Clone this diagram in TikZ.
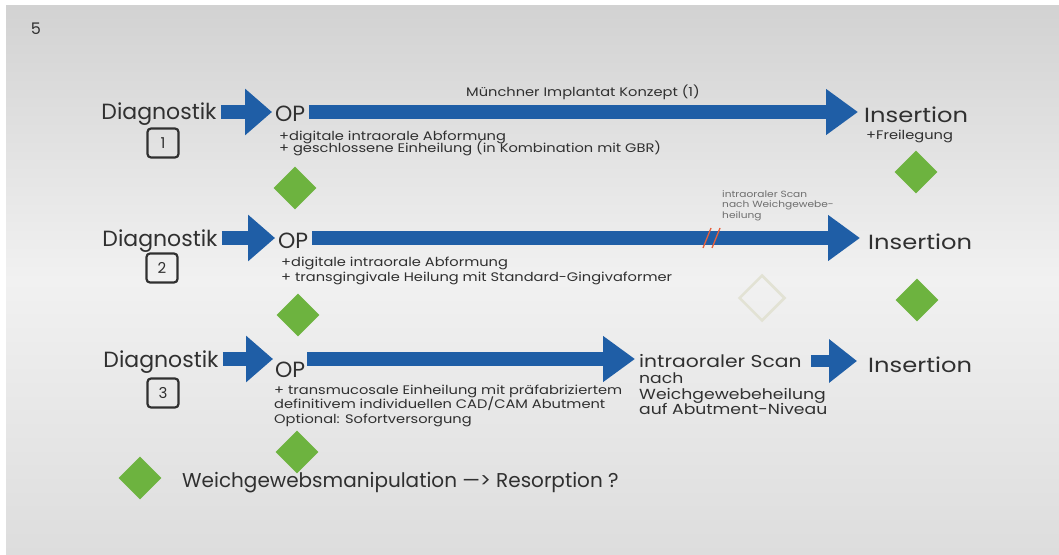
\documentclass[tikz,border=0pt]{standalone}
\usepackage{fontspec}
\setmainfont{Poppins}
\newfontfamily\widefont{Poppins}[FakeStretch=1.18]
\usetikzlibrary{arrows.meta,shapes.geometric}
\definecolor{arrowblue}{HTML}{1F5EA6}
\definecolor{leafgreen}{HTML}{6DB33F}
\definecolor{txt}{HTML}{303030}
\definecolor{slashred}{HTML}{E8603C}
\definecolor{faint}{HTML}{E2E2D4}
\definecolor{bgtop}{HTML}{D2D2D2}
\definecolor{bgmid}{HTML}{F1F1F1}
\definecolor{bgbot}{HTML}{DDDDDD}
\begin{document}
\begin{tikzpicture}[x=1pt,y=-1pt,
  big/.style={inner sep=0pt,text=txt,font=\fontsize{22}{24}\selectfont,anchor=base},
  mid/.style={inner sep=0pt,text=txt,font=\widefont\fontsize{17.2}{19}\selectfont,anchor=base west},
  sub/.style={inner sep=0pt,text=txt,font=\widefont\fontsize{14.6}{16}\selectfont,anchor=base west},
  small/.style={inner sep=0pt,text=txt,font=\widefont\fontsize{12.4}{13}\selectfont,anchor=base west},
  tiny/.style={inner sep=0pt,text=txt!70,font=\widefont\fontsize{9}{10}\selectfont,anchor=base west},
  numbox/.style={draw=txt,line width=2.2pt,rounded corners=3.5pt,minimum width=31pt,minimum height=29pt,inner sep=0pt,text=txt,font=\fontsize{15}{16}\selectfont},
  dia/.style={diamond,fill=leafgreen,minimum size=43pt,inner sep=0pt},
  shortarrow/.style={arrowblue,line width=14pt,-{Triangle[length=27pt,width=45pt]}},
  longarrow/.style={arrowblue,line width=14pt,-{Triangle[length=32pt,width=44pt]}},
  midarrow/.style={arrowblue,line width=12pt,-{Triangle[length=28pt,width=42pt]}}
]
\useasboundingbox (0,0) rectangle (1059,554);
\fill[white] (0,0) rectangle (1059,554);
\shade[top color=bgtop,bottom color=bgbot,middle color=bgmid] (6,5) rectangle (1059,554);

\node[inner sep=0pt,text=txt,font=\fontsize{16}{17}\selectfont,anchor=base] (pg) at (36,34) {5};

% row coordinates
\coordinate (r1) at (0,112);
\coordinate (r2) at (0,238);
\coordinate (r3) at (0,359);
\coordinate (r3b) at (0,361);

% Row 1
\node[big] (diag1) at (159,119) {Diagnostik};
\node[numbox] (n1) at (163,143) {1};
\node[big,anchor=base west] (op1) at (275,121) {OP};
\node[big,anchor=base west,font=\widefont\fontsize{20.5}{22}\selectfont] (ins1) at (864,122) {Insertion};
\node[small] (t1a) at (279,140) {+digitale intraorale Abformung};
\node[small] (t1b) at (279,152) {+ geschlossene Einheilung (in Kombination mit GBR)};
\node[small,anchor=base] (mik) at (583,96) {Münchner Implantat Konzept (1)};
\node[small] (frei) at (866,139) {+Freilegung};
\node[dia] (d1a) at (295,188) {};
\node[dia] (d1b) at (916,172) {};
\draw[shortarrow,shorten <=4pt,shorten >=3pt] (diag1.east |- r1) -- (op1.west |- r1);
\draw[longarrow,shorten <=4pt,shorten >=6pt] (op1.east |- r1) -- (ins1.west |- r1);

% Row 2
\node[big] (diag2) at (160,246) {Diagnostik};
\node[numbox] (n2) at (162,268) {2};
\node[big,anchor=base west] (op2) at (278,248) {OP};
\node[big,anchor=base west,font=\widefont\fontsize{20.5}{22}\selectfont] (ins2) at (868,249) {Insertion};
\node[small] (t2a) at (281,266) {+digitale intraorale Abformung};
\node[small] (t2b) at (281,281) {+ transgingivale Heilung mit Standard-Gingivaformer};
\node[tiny] (sc2a) at (722,197) {intraoraler Scan};
\node[tiny] (sc2b) at (722,207.5) {nach Weichgewebe-};
\node[tiny] (sc2c) at (722,218) {heilung};
\node[dia] (d2a) at (298,315) {};
\node[diamond,draw=faint,line width=2.5pt,minimum size=46pt,inner sep=0pt] (d2m) at (762,298) {};
\node[dia] (d2b) at (917,300) {};
\draw[shortarrow,shorten <=4pt,shorten >=3pt] (diag2.east |- r2) -- (op2.west |- r2);
\draw[longarrow,shorten <=4pt,shorten >=8pt] (op2.east |- r2) -- (ins2.west |- r2);
\draw[slashred,line width=1.3pt] (703,248) -- (711,228) (712,248) -- (720,228);

% Row 3
\node[big] (diag3) at (161,367) {Diagnostik};
\node[numbox] (n3) at (163,393) {3};
\node[big,anchor=base west] (op3) at (275,377) {OP};
\node[mid] (scan3) at (639,367) {intraoraler Scan};
\node[sub] (s3a) at (639,383) {nach};
\node[sub] (s3b) at (639,399) {Weichgewebeheilung};
\node[sub] (s3c) at (639,414) {auf Abutment-Niveau};
\node[big,anchor=base west,font=\widefont\fontsize{20.5}{22}\selectfont] (ins3) at (868,372) {Insertion};
\node[small] (t3a) at (274,394) {+ transmucosale Einheilung mit präfabriziertem};
\node[small] (t3b) at (274,408) {definitivem individuellen CAD/CAM Abutment};
\node[small] (t3c) at (274,423) {Optional: Sofortversorgung};
\node[dia] (d3a) at (297,452) {};
\draw[shortarrow,shorten <=4pt,shorten >=2pt] (diag3.east |- r3) -- (op3.west |- r3);
\draw[longarrow,shorten <=2pt,shorten >=4pt] (op3.east |- r3) -- (scan3.west |- r3);
\draw[midarrow,shorten <=9pt,shorten >=11pt] (scan3.east |- r3b) -- (ins3.west |- r3b);

% Legend
\node[dia] (dl) at (140,478) {};
\node[inner sep=0pt,text=txt,font=\fontsize{20}{21}\selectfont,anchor=base west] (leg) at (182,487) {Weichgewebsmanipulation —> Resorption ?};
\end{tikzpicture}
\end{document}
